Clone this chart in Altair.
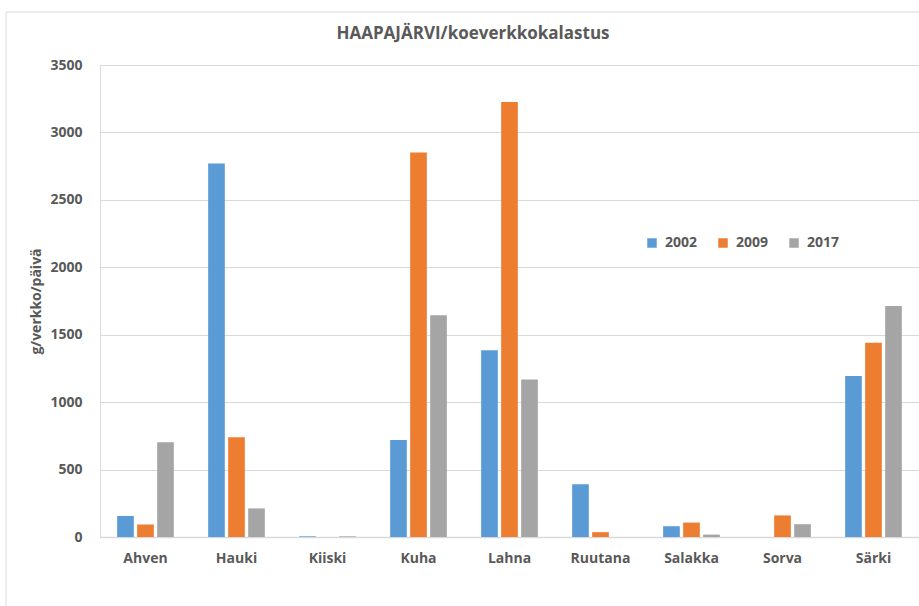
import altair as alt
import pandas as pd

species = ["Ahven", "Hauki", "Kiiski", "Kuha", "Lahna", "Ruutana", "Salakka", "Sorva", "Särki"]
years = ["2002", "2009", "2017"]
v2002 = [156, 2770, 5, 720, 1385, 392, 80, 0, 1194]
v2009 = [93, 740, 0, 2852, 3225, 36, 107, 160, 1441]
v2017 = [703, 212, 5, 1645, 1168, 0, 18, 95, 1713]
colors = ["#5B9BD5", "#ED7D31", "#A5A5A5"]
chart_title = "HAAPAJÄRVI/koeverkkokalastus"

rows = []
for yr, vals in zip(years, [v2002, v2009, v2017]):
    for s, v in zip(species, vals):
        rows.append({"laji": s, "vuosi": yr, "arvo": v})
df = pd.DataFrame(rows)

FONT = "Open Sans"
GREY = "#595959"

bars = alt.Chart(df).mark_bar().encode(
    x=alt.X("laji:N", sort=species, title=None,
            scale=alt.Scale(paddingInner=0.377, paddingOuter=0.1885),
            axis=alt.Axis(labelAngle=0, labelFont=FONT, labelFontWeight="bold",
                          labelFontSize=14, labelColor=GREY, ticks=False,
                          domainColor="#d9d9d9", domainWidth=1.5, labelPadding=14)),
    xOffset=alt.XOffset("vuosi:N", sort=years, scale=alt.Scale(paddingInner=0.167, paddingOuter=0)),
    y=alt.Y("arvo:Q", title="g/verkko/päivä",
            scale=alt.Scale(domain=[0, 3500], nice=False),
            axis=alt.Axis(values=[0, 500, 1000, 1500, 2000, 2500, 3000, 3500], format="d",
                          labelFont=FONT, labelFontWeight="bold", labelFontSize=14,
                          labelColor=GREY, ticks=False, domain=False,
                          gridColor="#d9d9d9", labelPadding=18,
                          titleFont=FONT, titleFontWeight="bold", titleFontSize=14,
                          titleColor=GREY, titleX=-57, titleY=236)),
    color=alt.Color("vuosi:N", sort=years,
                    scale=alt.Scale(domain=years, range=colors),
                    legend=alt.Legend(title=None, orient="none", legendX=545, legendY=171,
                                      direction="horizontal", symbolType="square",
                                      symbolSize=90, symbolStrokeWidth=0,
                                      labelFont=FONT, labelFontWeight="bold",
                                      labelFontSize=14, labelColor=GREY,
                                      columnPadding=18, labelOffset=6)),
)

one = pd.DataFrame({"t": [chart_title]})
frame_left = alt.Chart(one).mark_rule(color="#d9d9d9", strokeWidth=1).encode(
    x=alt.value(-94), y=alt.value(-53), y2=alt.value(545))
frame_top = alt.Chart(one).mark_rule(color="#d9d9d9", strokeWidth=1).encode(
    x=alt.value(-94), x2=alt.value(830), y=alt.value(-53))
title_text = alt.Chart(one).mark_text(font=FONT, fontSize=17, fontWeight="bold",
                                      color=GREY, align="center", baseline="middle").encode(
    x=alt.value(373), y=alt.value(-31), text="t:N")

chart = alt.layer(frame_left, frame_top, title_text, bars).properties(
    width=819, height=472,
    padding={"left": 100, "top": 65, "right": 0, "bottom": 69},
    autosize=alt.AutoSizeParams(type="none"),
).configure_view(stroke=None).configure(background="white")

chart.save("out.html", embed_options={"renderer": "svg", "actions": False})
